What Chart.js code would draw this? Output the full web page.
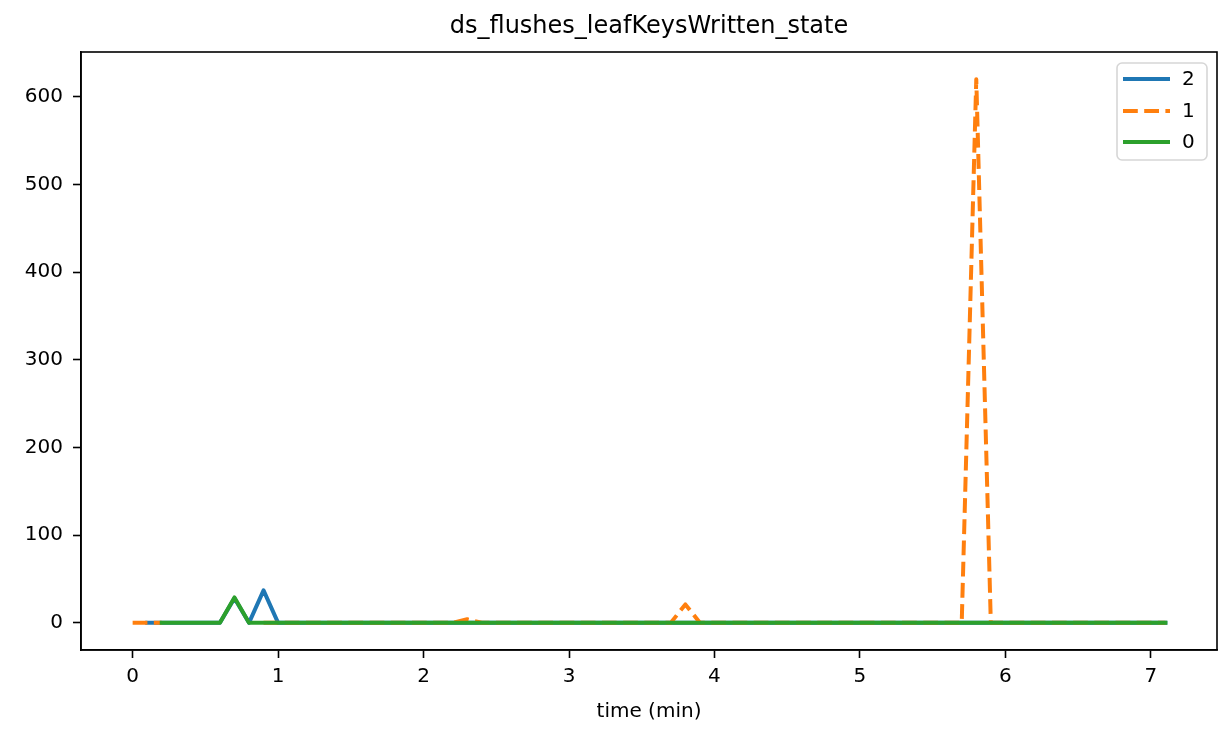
<!DOCTYPE html>
<html>
<head>
<meta charset="utf-8">
<script src="https://cdn.jsdelivr.net/npm/chart.js@4.4.1/dist/chart.umd.min.js"></script>
<style>
  html, body { margin: 0; padding: 0; background: #ffffff; }
  #chart { display: block; }
</style>
</head>
<body>
<canvas id="chart" width="1226" height="735"></canvas>
<script>
const TITLE = "ds_flushes_leafKeysWritten_state";
const X_LABEL = "time (min)";
const FONT = "'DejaVu Sans', sans-serif";

// sample times in minutes
const times = [
  0.0, 0.1, 0.2, 0.3, 0.4, 0.5, 0.6, 0.7, 0.8, 0.9,
  1.0, 1.1, 1.2, 1.3, 1.4, 1.5, 1.6, 1.7, 1.8, 1.9,
  2.0, 2.1, 2.2, 2.3, 2.4, 2.5, 2.6, 2.7, 2.8, 2.9,
  3.0, 3.1, 3.2, 3.3, 3.4, 3.5, 3.6, 3.7, 3.8, 3.9,
  4.0, 4.1, 4.2, 4.3, 4.4, 4.5, 4.6, 4.7, 4.8, 4.9,
  5.0, 5.1, 5.2, 5.3, 5.4, 5.5, 5.6, 5.7, 5.8, 5.9,
  6.0, 6.1, 6.2, 6.3, 6.4, 6.5, 6.6, 6.7, 6.8, 6.9,
  7.0, 7.1,
];

// series "2" (starts one sample late)
const series2 = [
  null, 0, 0, 0, 0, 0, 0, 28, 0, 37,
  0, 0, 0, 0, 0, 0, 0, 0, 0, 0,
  0, 0, 0, 0, 0, 0, 0, 0, 0, 0,
  0, 0, 0, 0, 0, 0, 0, 0, 0, 0,
  0, 0, 0, 0, 0, 0, 0, 0, 0, 0,
  0, 0, 0, 0, 0, 0, 0, 0, 0, 0,
  0, 0, 0, 0, 0, 0, 0, 0, 0, 0,
  0, 0,
];

// series "1" (no samples between 0.3 and 0.8)
const series1 = [
  0, 0, 0, null, null, null, null, null, null, 0,
  0, 0, 0, 0, 0, 0, 0, 0, 0, 0,
  0, 0, 0, 4, 0, 0, 0, 0, 0, 0,
  0, 0, 0, 0, 0, 0, 0, 0, 21, 0,
  0, 0, 0, 0, 0, 0, 0, 0, 0, 0,
  0, 0, 0, 0, 0, 0, 0, 0, 620, 0,
  0, 0, 0, 0, 0, 0, 0, 0, 0, 0,
  0, 0,
];

// series "0" (starts two samples late)
const series0 = [
  null, null, 0, 0, 0, 0, 0, 29, 0, 0,
  0, 0, 0, 0, 0, 0, 0, 0, 0, 0,
  0, 0, 0, 0, 0, 0, 0, 0, 0, 0,
  0, 0, 0, 0, 0, 0, 0, 0, 0, 0,
  0, 0, 0, 0, 0, 0, 0, 0, 0, 0,
  0, 0, 0, 0, 0, 0, 0, 0, 0, 0,
  0, 0, 0, 0, 0, 0, 0, 0, 0, 0,
  0, 0,
];

const xTicks = [0, 1, 2, 3, 4, 5, 6, 7];
const yTicks = [0, 100, 200, 300, 400, 500, 600];

const seriesNames = ["2", "1", "0"];
const seriesColors = ["#1f77b4", "#ff7f0e", "#2ca02c"];
const seriesDashes = [[], [14.8, 6.4], []];

function toPoints(values) {
  // null breaks the line, like a missing sample
  return values.map((v, i) => ({ x: times[i], y: v }));
}

const allSeries = [series2, series1, series0];

const datasets = allSeries.map((values, i) => ({
  label: seriesNames[i],
  data: toPoints(values),
  borderColor: seriesColors[i],
  backgroundColor: seriesColors[i],
  borderWidth: 4,
  borderDash: seriesDashes[i],
  borderJoinStyle: "round",
  borderCapStyle: seriesDashes[i].length ? "butt" : "square",
  pointRadius: 0,
  tension: 0,
  fill: false,
  spanGaps: false,
  order: allSeries.length - i, // last series on top, like matplotlib
}));

// matplotlib-ish frame, title and legend
const decorations = {
  id: "decorations",
  afterDraw(chart) {
    const ctx = chart.ctx;
    const a = chart.chartArea;
    ctx.save();

    // full axes frame
    ctx.strokeStyle = "#000000";
    ctx.lineWidth = 1.6;
    ctx.strokeRect(a.left, a.top, a.right - a.left, a.bottom - a.top);

    // title
    ctx.fillStyle = "#000000";
    ctx.font = "24px " + FONT;
    ctx.textAlign = "center";
    ctx.textBaseline = "middle";
    ctx.fillText(TITLE, (a.left + a.right) / 2, 27);

    // legend box
    const bx = 1117, by = 63, bw = 90, bh = 97, r = 5;
    ctx.beginPath();
    ctx.moveTo(bx + r, by);
    ctx.arcTo(bx + bw, by, bx + bw, by + bh, r);
    ctx.arcTo(bx + bw, by + bh, bx, by + bh, r);
    ctx.arcTo(bx, by + bh, bx, by, r);
    ctx.arcTo(bx, by, bx + bw, by, r);
    ctx.closePath();
    ctx.fillStyle = "rgba(255,255,255,0.8)";
    ctx.fill();
    ctx.strokeStyle = "#d6d6d6";
    ctx.lineWidth = 1.6;
    ctx.stroke();

    const rows = [79, 111, 142];
    seriesNames.forEach((name, i) => {
      ctx.beginPath();
      ctx.strokeStyle = seriesColors[i];
      ctx.lineWidth = 4;
      ctx.setLineDash(seriesDashes[i]);
      ctx.lineCap = "butt";
      ctx.moveTo(1123, rows[i]);
      ctx.lineTo(1170, rows[i]);
      ctx.stroke();
      ctx.setLineDash([]);
      ctx.fillStyle = "#000000";
      ctx.font = "20px " + FONT;
      ctx.textAlign = "left";
      ctx.textBaseline = "middle";
      ctx.fillText(name, 1182, rows[i] + 1);
    });

    ctx.restore();
  },
};

const axisStyle = {
  grid: {
    drawOnChartArea: false,
    drawTicks: true,
    tickLength: 8,
    tickColor: "#000000",
    tickWidth: 1.6,
  },
  border: { display: true, color: "#000000", width: 1.6 },
  ticks: {
    color: "#000000",
    padding: 7,
    font: { family: FONT, size: 20 },
    maxRotation: 0,
    autoSkip: false,
  },
};

new Chart(document.getElementById("chart"), {
  type: "line",
  data: { datasets },
  options: {
    responsive: false,
    animation: false,
    devicePixelRatio: 1,
    layout: { padding: { top: 52, right: 9, left: 0, bottom: 0 } },
    scales: {
      x: {
        type: "linear",
        min: -0.355,
        max: 7.455,
        ...axisStyle,
        title: {
          display: true,
          text: X_LABEL,
          color: "#000000",
          font: { family: FONT, size: 20 },
          padding: { top: 0, bottom: 11 },
        },
        afterBuildTicks(scale) {
          scale.ticks = xTicks.map((v) => ({ value: v }));
        },
        afterFit(scale) {
          scale.height = 85;
        },
      },
      y: {
        type: "linear",
        min: -31,
        max: 651,
        ...axisStyle,
        ticks: { ...axisStyle.ticks, padding: 10 },
        afterBuildTicks(scale) {
          scale.ticks = yTicks.map((v) => ({ value: v }));
        },
        afterFit(scale) {
          scale.width = 81;
        },
      },
    },
    plugins: {
      legend: { display: false },
      title: { display: false },
      tooltip: { enabled: false },
    },
  },
  plugins: [decorations],
});
</script>
</body>
</html>
